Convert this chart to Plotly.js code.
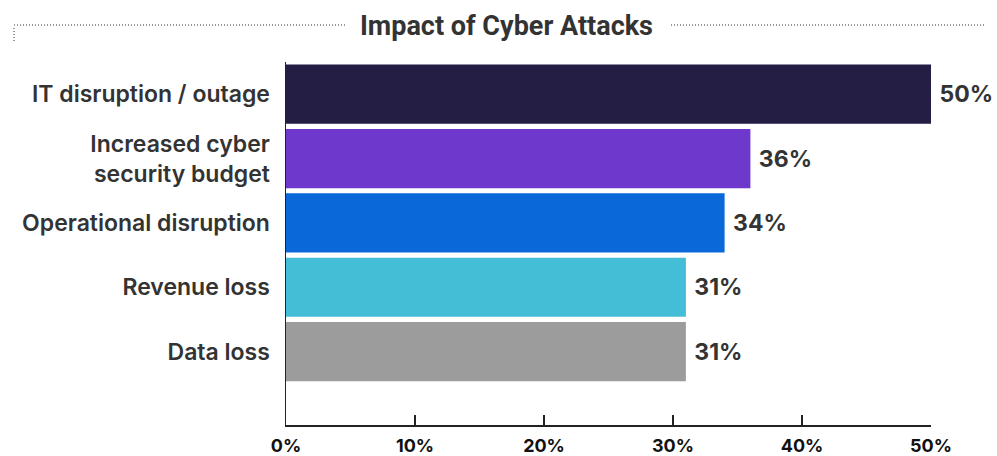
<!DOCTYPE html>
<html><head><meta charset="utf-8">
<script src="https://cdn.plot.ly/plotly-3.0.1.min.js"></script>
<style>html,body{margin:0;padding:0;background:#fff;}#chart{width:997px;height:456px;}</style>
</head><body><div id="chart"></div>
<script>
const categories = ["IT disruption / outage", "Increased cyber<br>security budget", "Operational disruption", "Revenue loss", "Data loss"];
const values = [50, 36, 34, 31, 31];
const valueLabels = [" 50%", " 36%", " 34%", " 31%", " 31%"];
const barColors = ["#241d44", "#6f38cc", "#0a68d8", "#44bdd6", "#9c9c9c"];
const tickVals = [0, 10, 20, 30, 40, 50];
const tickText = ["0%", "10%", "20%", "30%", "40%", "50%"];

const trace = {
  type: "bar", orientation: "h",
  x: values, y: categories,
  marker: {color: barColors},
  text: valueLabels, textposition: "outside", cliponaxis: false,
  textfont: {family: "Inter", size: 23, color: "#333333", weight: 700},
  hoverinfo: "none"
};
const dot = {color: "#333", width: 1, dash: "1px,2px"};
const layout = {
  width: 997, height: 456,
  margin: {l: 286, r: 66, t: 62, b: 31},
  paper_bgcolor: "#fff", plot_bgcolor: "#fff",
  bargap: 0.08, showlegend: false,
  title: {text: "Impact of Cyber Attacks", x: 0.508, xanchor: "center", y: 0.945, yanchor: "middle",
          font: {family: "Liberation Sans Narrow, Roboto", size: 27, color: "#333333", weight: 700}},
  xaxis: {range: [0, 50], tickvals: tickVals, ticktext: tickText, showgrid: false, zeroline: false,
          showline: true, linecolor: "#222", linewidth: 1.5, ticks: "inside", ticklen: 10, tickcolor: "#222", tickwidth: 1.5,
          ticklabelstandoff: 4,
          tickfont: {family: "Inter", size: 18, color: "#111", weight: 700}},
  yaxis: {type: "category", categoryorder: "array", categoryarray: categories, range: [5.14, -0.5],
          showgrid: false, zeroline: false, showline: true, linecolor: "#222", linewidth: 1.5, ticks: "",
          ticklabelstandoff: 10,
          tickfont: {family: "Inter", size: 23, color: "#333333", weight: 600}},
  shapes: [
    {type: "line", xref: "paper", yref: "paper", x0: -272/645, x1: 60/645, y0: 1 + 37/363, y1: 1 + 37/363, line: dot},
    {type: "line", xref: "paper", yref: "paper", x0: 385/645, x1: 700/645, y0: 1 + 37/363, y1: 1 + 37/363, line: dot},
    {type: "line", xref: "paper", yref: "paper", x0: -272/645, x1: -272/645, y0: 1 + 34/363, y1: 1 + 20/363, line: dot}
  ]
};
Plotly.newPlot("chart", [trace], layout, {displayModeBar: false, staticPlot: true});
</script></body></html>
